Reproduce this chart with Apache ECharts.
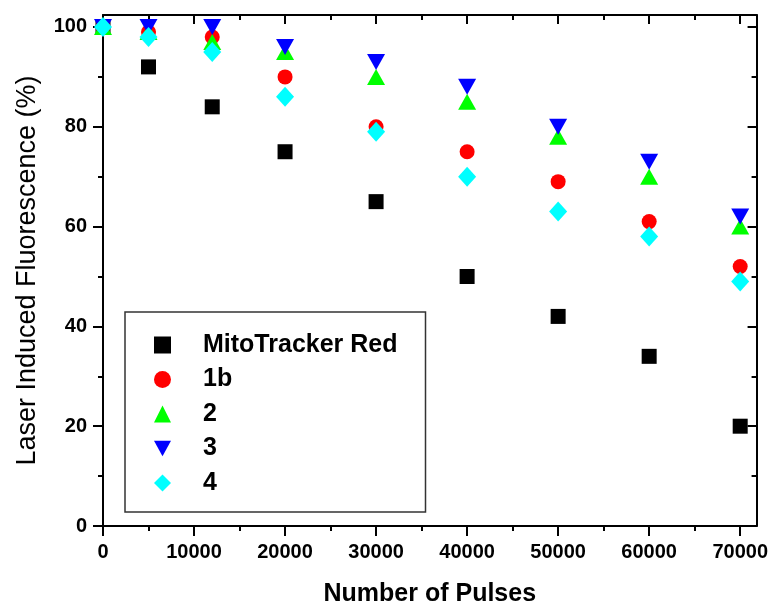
<!DOCTYPE html>
<html>
<head>
<meta charset="utf-8">
<script src="https://cdn.jsdelivr.net/npm/echarts@6/dist/echarts.min.js"></script>
<style>html,body{margin:0;padding:0;background:#fff;}#c{width:771px;height:612px;}</style>
</head>
<body>
<div id="c"></div>
<script>
// Data
var pulses = [0, 5000, 12000, 20000, 30000, 40000, 50000, 60000, 70000];
var mitoTracker = [100, 92, 84, 75, 65, 50, 42, 34, 20];
var s1b = [100, 99, 98, 90, 80, 75, 69, 61, 52];
var s2 = [100, 99, 97, 95, 90, 85, 78, 70, 60];
var s3 = [100, 100, 100, 96, 93, 88, 80, 73, 62];
var s4 = [100, 98, 95, 86, 79, 70, 63, 58, 49];
var seriesNames = ['MitoTracker Red', '1b', '2', '3', '4'];
var xMajorTicks = [0, 10000, 20000, 30000, 40000, 50000, 60000, 70000];
var xMinorTicks = [5000, 15000, 25000, 35000, 45000, 55000, 65000];
var yMajorTicks = [0, 20, 40, 60, 80, 100];
var yMinorTicks = [10, 30, 50, 70, 90];

function pairs(ys) { return pulses.map(function (x, i) { return [x, ys[i]]; }); }

var XMAX = 71800, YMAX = 102.4;
var font = 'Liberation Sans, Arial, sans-serif';

function xAx(pos, ticks, len, inside, main) {
  return {
    type: 'value', position: pos, min: 0, max: XMAX,
    axisLine: { show: main, onZero: false, lineStyle: { color: '#000', width: 2 } },
    axisTick: { show: true, inside: inside, length: len, customValues: ticks, lineStyle: { color: '#000', width: 2 } },
    axisLabel: main && pos === 'bottom' ? { show: true, customValues: xMajorTicks, margin: 16, color: '#000', fontFamily: font, fontWeight: 'bold', fontSize: 20, formatter: function (v) { return String(v); } } : { show: false },
    splitLine: { show: false },
    name: main && pos === 'bottom' ? 'Number of Pulses' : '',
    nameLocation: 'middle', nameGap: 56,
    nameTextStyle: { color: '#000', fontFamily: font, fontWeight: 'bold', fontSize: 25 }
  };
}
function yAx(pos, ticks, len, inside, main) {
  return {
    type: 'value', position: pos, min: 0, max: YMAX,
    axisLine: { show: main, onZero: false, lineStyle: { color: '#000', width: 2 } },
    axisTick: { show: true, inside: inside, length: len, customValues: ticks, lineStyle: { color: '#000', width: 2 } },
    axisLabel: main && pos === 'left' ? { show: true, customValues: yMajorTicks, margin: 16, color: '#000', fontFamily: font, fontWeight: 'bold', fontSize: 20, formatter: function (v) { return String(v); } } : { show: false },
    splitLine: { show: false },
    name: main && pos === 'left' ? 'Laser Induced Fluorescence (%)' : '',
    nameLocation: 'middle', nameGap: 62,
    nameTextStyle: { color: '#000', fontFamily: font, fontSize: 27 }
  };
}

var chart = echarts.init(document.getElementById('c'), null, { renderer: 'canvas' });
var symbols = ['rect', 'circle', 'triangle', 'triangle', 'diamond'];
var legendIcons = ['rect', 'circle', 'triangle', 'path://M0,0 L2,0 L1,1.8 Z', 'diamond'];
var sizes = [15, 15, [18, 16], [18, 16], [18, 20]];
var rotates = [0, 0, 0, 180, 0];
var colors = ['#000000', '#ff0000', '#00ff00', '#0000ff', '#00ffff'];
var datas = [mitoTracker, s1b, s2, s3, s4];

chart.setOption({
  animation: false,
  backgroundColor: '#fff',
  grid: { left: 103, right: 14, top: 15, bottom: 83 },
  xAxis: [
    xAx('bottom', xMajorTicks, 10, false, true),
    xAx('bottom', xMinorTicks, 5, false, false),
    xAx('top', xMajorTicks, 9, true, true),
    xAx('top', xMinorTicks, 5, true, false)
  ],
  yAxis: [
    yAx('left', yMajorTicks, 10, false, true),
    yAx('left', yMinorTicks, 5, false, false),
    yAx('right', yMajorTicks, 9, true, true),
    yAx('right', yMinorTicks, 5, true, false)
  ],
  legend: {
    orient: 'vertical', left: 125, top: 312,
    padding: [20.5, 28, 16.5, 29],
    itemWidth: 17, itemHeight: 17, itemGap: 9.5,
    borderColor: '#333', borderWidth: 1.5,
    textStyle: { color: '#000', fontFamily: font, fontWeight: 'bold', fontSize: 25, lineHeight: 25, padding: [0, 0, 0, 27] },
    data: seriesNames.map(function (n, i) { return { name: n, icon: legendIcons[i] }; })
  },
  series: seriesNames.map(function (n, i) {
    return {
      name: n, type: 'scatter', xAxisIndex: 0, yAxisIndex: 0,
      symbol: symbols[i], symbolSize: sizes[i], symbolRotate: rotates[i],
      itemStyle: { color: colors[i], opacity: 1 },
      data: pairs(datas[i])
    };
  })
});
</script>
</body>
</html>
